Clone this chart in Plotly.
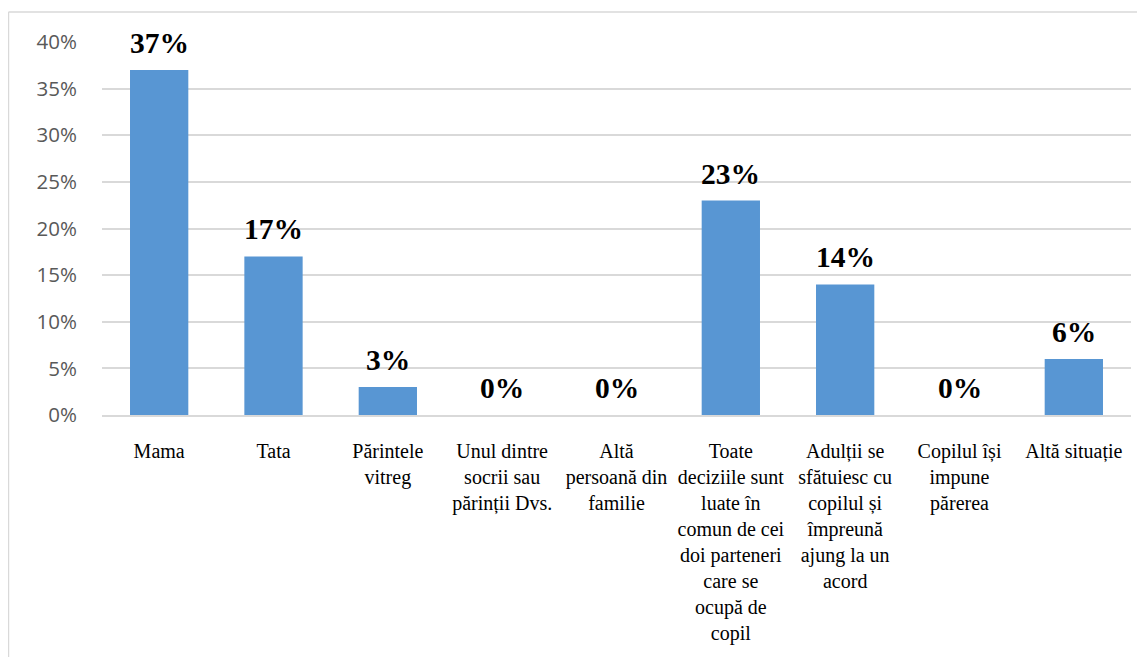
import plotly.graph_objects as go

categories = [
    "Mama",
    "Tata",
    "Părintele<br>vitreg",
    "Unul dintre<br>socrii sau<br>părinții Dvs.",
    "Altă<br>persoană din<br>familie",
    "Toate<br>deciziile sunt<br>luate în<br>comun de cei<br>doi parteneri<br>care se<br>ocupă de<br>copil",
    "Adulții se<br>sfătuiesc cu<br>copilul și<br>împreună<br>ajung la un<br>acord",
    "Copilul își<br>impune<br>părerea",
    "Altă situație",
]
values = [0.37, 0.17, 0.03, 0.0, 0.0, 0.23, 0.14, 0.0, 0.06]
labels = ["37%", "17%", "3%", "0%", "0%", "23%", "14%", "0%", "6%"]
y_ticks = [0, 0.05, 0.10, 0.15, 0.20, 0.25, 0.30, 0.35, 0.40]
y_tick_text = ["0%", "5%", "10%", "15%", "20%", "25%", "30%", "35%", "40%"]

SERIF = "Liberation Serif, Times New Roman, DejaVu Serif, serif"

xs = list(range(len(categories)))

fig = go.Figure()
fig.add_trace(go.Bar(
    x=xs, y=values,
    marker=dict(color="#5896D3", line=dict(width=0)),
    width=0.51,
    hoverinfo="skip",
))

for x, v, t in zip(xs, values, labels):
    fig.add_annotation(
        x=x, y=v, text="<b>" + t + "</b>", showarrow=False, yanchor="middle", yshift=27,
        font=dict(family=SERIF, size=29.5, color="#000000"),
    )

# outer chart border (left and top lines)
fig.add_shape(type="line", xref="paper", yref="paper", x0=-0.0909, x1=1.02, y0=1.0804, y1=1.0804,
              line=dict(color="#D9D9D9", width=1.5))
fig.add_shape(type="line", xref="paper", yref="paper", x0=-0.0909, x1=-0.0909, y0=1.0804, y1=-0.65,
              line=dict(color="#D9D9D9", width=1.5))

fig.update_layout(
    width=1137, height=649,
    margin=dict(l=94, r=14, t=34, b=242, autoexpand=False),
    paper_bgcolor="white", plot_bgcolor="white",
    showlegend=False,
    xaxis=dict(
        tickmode="array", tickvals=xs, ticktext=categories,
        range=[-0.5, len(categories) - 0.5],
        showgrid=False, zeroline=False, automargin=False,
        showline=True, linecolor="#D9D9D9", linewidth=2,
        ticks="", ticklabelstandoff=17, tickangle=0,
        tickfont=dict(family=SERIF, size=20, color="#000000"),
    ),
    yaxis=dict(
        range=[0, 0.4], tickmode="array", tickvals=y_ticks, ticktext=y_tick_text,
        showgrid=True, gridcolor="#D9D9D9", gridwidth=1.5, automargin=False,
        zeroline=False, showline=False, ticks="", ticklabelstandoff=24,
        tickfont=dict(family="Open Sans", size=20.5, color="#595959"),
    ),
)

fig.write_html("out.html")
